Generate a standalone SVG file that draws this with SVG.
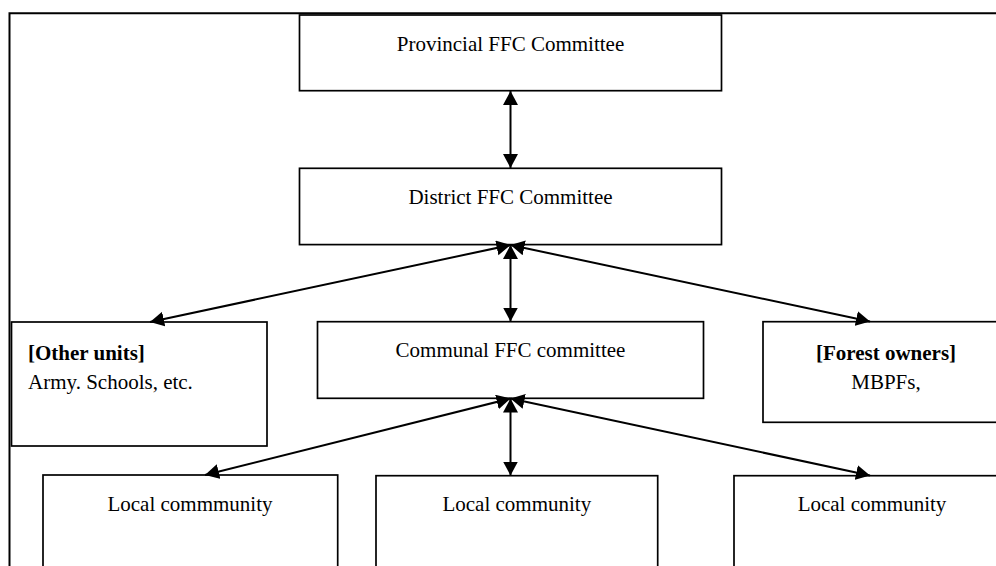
<svg xmlns="http://www.w3.org/2000/svg" width="996" height="566" viewBox="0 0 996 566">
  <style>
    .box { fill: #fff; stroke: #000; stroke-width: 1.7; }
    .frame { fill: none; stroke: #000; stroke-width: 2; }
    .lbl { font-family: "Liberation Serif", "Times New Roman", serif; font-size: 21px; fill: #000; }
    .mid { text-anchor: middle; }
    .b { font-weight: bold; }
    .conn { fill: none; stroke: #000; stroke-width: 2; marker-start: url(#head); marker-end: url(#head); }
  </style>
  <defs>
    <marker id="head" markerUnits="userSpaceOnUse" markerWidth="16" markerHeight="16" refX="14" refY="7.5" orient="auto-start-reverse">
      <path d="M0,0 L14,7.5 L0,15 Z" fill="#000"/>
    </marker>
  </defs>

  <rect width="996" height="566" fill="#fff"/>

  <!-- outer frame -->
  <path class="frame" d="M9.5,566 L9.5,13.3 L996,13.3"/>

  <g id="provincial">
    <rect class="box" x="299.5" y="15" width="422" height="75.7"/>
    <text class="lbl mid" x="510.5" y="51">Provincial FFC Committee</text>
  </g>

  <g id="district">
    <rect class="box" x="299.5" y="168.3" width="422" height="76.3"/>
    <text class="lbl mid" x="510.5" y="204">District FFC Committee</text>
  </g>

  <g id="other-units">
    <rect class="box" x="11.5" y="322" width="255.5" height="124"/>
    <text class="lbl b" x="28" y="360">[Other units]</text>
    <text class="lbl" x="28" y="389">Army. Schools, etc.</text>
  </g>

  <g id="communal">
    <rect class="box" x="317.5" y="321.7" width="386" height="76.6"/>
    <text class="lbl mid" x="510.5" y="357">Communal FFC committee</text>
  </g>

  <g id="forest-owners">
    <rect class="box" x="763" y="321.7" width="246" height="100.6"/>
    <text class="lbl b mid" x="886" y="360">[Forest owners]</text>
    <text class="lbl mid" x="886" y="389">MBPFs,</text>
  </g>

  <g id="local-1">
    <rect class="box" x="43" y="475" width="294.7" height="100"/>
    <text class="lbl mid" x="190" y="510.7">Local commmunity</text>
  </g>

  <g id="local-2">
    <rect class="box" x="376" y="475.7" width="281.7" height="100"/>
    <text class="lbl mid" x="516.8" y="510.7">Local community</text>
  </g>

  <g id="local-3">
    <rect class="box" x="734" y="475.7" width="276" height="100"/>
    <text class="lbl mid" x="872" y="510.7">Local community</text>
  </g>

  <g id="connectors">
    <line class="conn" x1="510.5" y1="91" x2="510.5" y2="168"/>
    <line class="conn" x1="510.5" y1="245" x2="510.5" y2="321.5"/>
    <line class="conn" x1="510.5" y1="245" x2="150" y2="322"/>
    <line class="conn" x1="510.5" y1="245" x2="870" y2="321.5"/>
    <line class="conn" x1="510.5" y1="398.5" x2="510.5" y2="475.5"/>
    <line class="conn" x1="510.5" y1="398.5" x2="205" y2="475"/>
    <line class="conn" x1="510.5" y1="398.5" x2="870" y2="475.5"/>
  </g>
</svg>
